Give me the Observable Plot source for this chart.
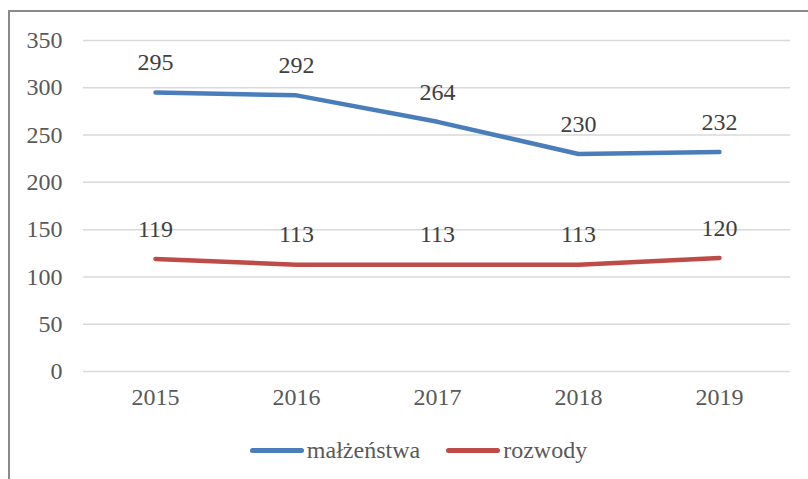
<!DOCTYPE html>
<html>
<head>
<meta charset="utf-8">
<script src="https://cdn.jsdelivr.net/npm/d3@7"></script>
<script src="https://cdn.jsdelivr.net/npm/@observablehq/plot@0.6"></script>
<style>
  html, body { margin: 0; padding: 0; background: #fff; }
  #wrap { position: relative; width: 808px; height: 479px; overflow: hidden; }
  #frame { position: absolute; left: 8px; top: 10px; width: 900px; height: 600px; border: 2px solid #8a8a8a; box-sizing: border-box; }
  #chart { position: absolute; left: 0; top: 0; }
  #legend { position: absolute; left: 0; top: 430px; width: 808px; height: 40px; display: flex; justify-content: center; align-items: center; gap: 26px; font-family: 'Liberation Serif', 'Times New Roman', Tinos, 'DejaVu Serif', serif; font-size: 24px; color: #595959; padding-left: 29px; box-sizing: border-box; }
  .item { display: flex; align-items: center; }
  .swatch { width: 54px; height: 5px; border-radius: 3px; margin-right: 3px; }
  #chart svg text { font-family: 'Liberation Serif', 'Times New Roman', Tinos, 'DejaVu Serif', serif; }
</style>
</head>
<body>
<div id="wrap">
  <div id="frame"></div>
  <div id="chart"></div>
  <div id="legend"></div>
</div>
<script>
const years = ["2015", "2016", "2017", "2018", "2019"];
const malzenstwa = [295, 292, 264, 230, 232];
const rozwody = [119, 113, 113, 113, 120];
const seriesNames = ["małżeństwa", "rozwody"];
const seriesColors = ["#4a7ebb", "#be4b48"];
const yTicks = [0, 50, 100, 150, 200, 250, 300, 350];

const data = [
  ...years.map((y, i) => ({year: y, value: malzenstwa[i], series: seriesNames[0]})),
  ...years.map((y, i) => ({year: y, value: rozwody[i], series: seriesNames[1]}))
];

const font = "'Liberation Serif', 'Times New Roman', Tinos, 'DejaVu Serif', serif";

const chart = Plot.plot({
  width: 808,
  height: 430,
  marginLeft: 83,
  marginRight: 18,
  marginTop: 40,
  marginBottom: 59,
  style: { fontFamily: font, fontSize: "24px", color: "#595959", background: "transparent", overflow: "visible" },
  x: { type: "point", domain: years, padding: 0.5, label: null },
  y: { domain: [0, 350], label: null },
  color: { domain: seriesNames, range: seriesColors },
  marks: [
    Plot.ruleY(yTicks, { stroke: "#d9d9d9", strokeWidth: 1.5 }),
    Plot.axisY(yTicks, { tickSize: 0, tickPadding: 21, label: null, fontSize: 24, fill: "#595959" }),
    Plot.axisX(years, { tickSize: 0, tickPadding: 16, label: null, fontSize: 24, fill: "#595959" }),
    Plot.line(data, { x: "year", y: "value", z: "series", stroke: "series", strokeWidth: 4.5, strokeLinecap: "round", strokeLinejoin: "round" }),
    Plot.text(data, { x: "year", y: "value", text: d => String(d.value), dy: -30, fontSize: 24, fill: "#404040" })
  ]
});
document.getElementById("chart").appendChild(chart);

const legend = document.getElementById("legend");
seriesNames.forEach((name, i) => {
  const item = document.createElement("div");
  item.className = "item";
  const sw = document.createElement("div");
  sw.className = "swatch";
  sw.style.background = seriesColors[i];
  const label = document.createElement("span");
  label.textContent = name;
  item.appendChild(sw);
  item.appendChild(label);
  legend.appendChild(item);
});
</script>
</body>
</html>
